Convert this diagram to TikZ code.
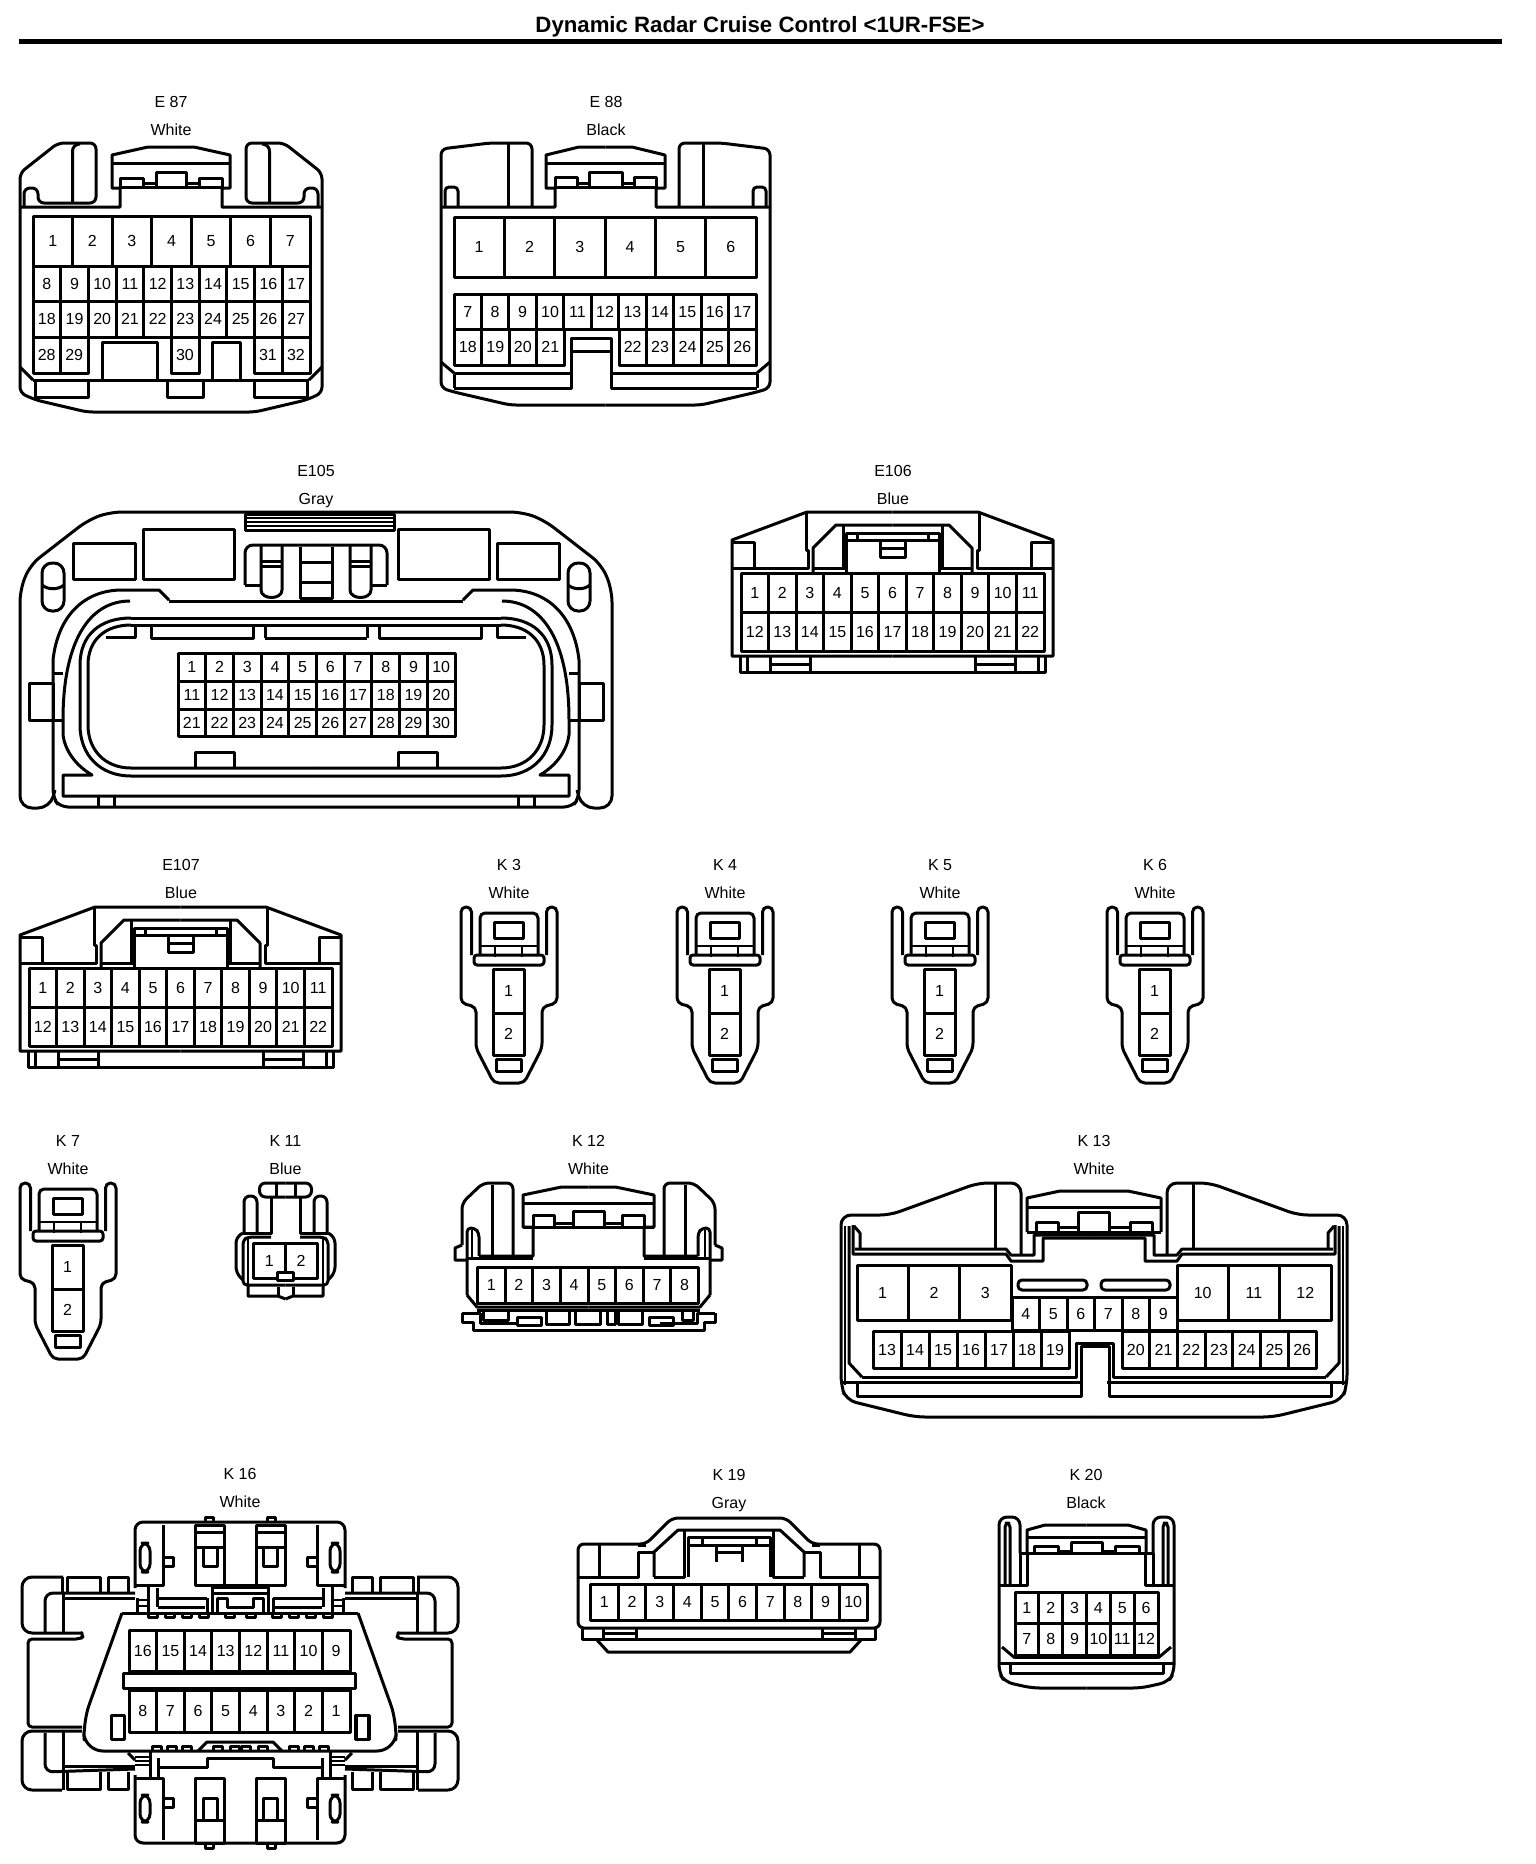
\documentclass[tikz,border=0pt]{standalone}
\usepackage{fontspec}
\setmainfont{Liberation Sans}
\newcommand{\bothsides}[2]{%
  \begin{scope}#2\end{scope}%
  \begin{scope}[shift={({2*#1},0)},xscale=-1]#2\end{scope}%
}
\newcommand{\pinrow}[7]{%
  \pgfmathsetmacro\pinw{(#3-#2)/#7}
  \foreach \n [count=\i from 0] in {#6} {
    \draw (#2+\i*\pinw,#4) rectangle (#2+\i*\pinw+\pinw,#5);
    \node[pinno] (#1p\n) at (#2+\i*\pinw+\pinw/2,{(#4+#5)/2}) {\n};
  }
}
\newcommand{\conname}[5]{%
  \node[context] (#1) at (#3,#4) {#2};
  \node[context] (#1c) at (#3,#4+28) {#5};
}
% the 22 pin housing, E106 and E107
\newcommand{\widecon}[3]{%
  \begin{scope}[shift={(#2,#3)}]
    \bothsides{892.5}{
      \draw (892.5,656)--(732,656)--(732,540)--(807,512)--(892.5,512);
      \draw (732,542)--(754,542)--(754,568);
      \draw (732,568)--(808,568)--(808,550)--(806,550)--(806,512);
      \draw (813,572)--(813,548)--(836,525)--(892.5,525);
      \draw (843,525)--(843,568);
      \draw (813,568)--(846,568);
      \draw (846,572)--(846,533)--(892.5,533);
      \draw (846,540)--(892.5,540);
      \draw (857,533)--(857,540);
      \draw (880,542)--(880,557)--(892.5,557);
      \draw (880,548)--(892.5,548);
      \draw (740,657)--(740,672)--(892.5,672);
      \draw (747,657)--(747,672);
      \draw (770,657)--(770,672);
      \draw (810,657)--(810,672);
      \draw (770,664)--(810,664);
    }
    \pinrow{#1}{741}{1044}{573}{612}{1,...,11}{11}
    \pinrow{#1}{741}{1044}{612}{651}{12,...,22}{11}
  \end{scope}
}
% the small 2 pin housing, K3 to K7
\newcommand{\twopin}[3]{%
  \begin{scope}[shift={(#2,#3)}]
    \draw[rounded corners=2.5pt] (471.5,955)--(471.5,907)--(461,907)--(461,1003)--(476,1007)--(476,1048)--(494,1083)--(524,1083)--(542,1048)--(542,1007)--(557,1003)--(557,907)--(546.5,907)--(546.5,955);
    \draw[rounded corners=1.5pt] (474,955)--(474,965)--(544,965)--(544,955)--cycle;
    \draw[rounded corners=2.5pt] (480,955)--(480,913)--(538,913)--(538,955);
    \draw (494,922) rectangle (523,938);
    \draw[thinline] (480,946)--(538,946);
    \draw[thinline] (495,947)--(495,957);
    \draw[thinline] (522,947)--(522,957);
    \draw (496,1059) rectangle (521,1071);
    \pinrow{#1}{493}{524}{969}{1013}{1}{1}
    \pinrow{#1}{493}{524}{1013}{1055}{2}{1}
  \end{scope}
}
\begin{document}
\begin{tikzpicture}[x=0.5pt,y=-0.5pt,line width=1.5pt,line join=round]
  \tikzstyle{pinno}=[inner sep=0pt,text height=5.8pt,text depth=0pt,font=\fontsize{8}{8}\selectfont]
  \tikzstyle{context}=[inner sep=0pt,text height=5.8pt,text depth=0pt,font=\fontsize{8}{8}\selectfont]
  \tikzstyle{thinline}=[line width=1pt]
  \useasboundingbox (0,0) rectangle (1536,1864);

  \node[inner sep=0pt,font=\bfseries\fontsize{11.1}{11}\selectfont] (title) at (760,27) {Dynamic Radar Cruise Control <1UR-FSE>};
  \coordinate (ruleL) at (19,41);
  \coordinate (ruleR) at (1502,41);
  \draw[line width=2.5pt] (ruleL) -- (ruleR);

  % E87
  \conname{e87}{E 87}{171}{102}{White}
  \bothsides{171}{
    \draw[rounded corners=3pt] (171,412)--(87,412)--(36,400)--(20,393)--(20,173)--(58,143)--(96,143)--(96,203)--(38,203)--(38,188)--(24,188)--(24,207);
    \draw (20,207)--(120,207)--(120,188)--(112,188)--(112,155)--(148,147)--(171,147);
    \draw[rounded corners=3pt] (72.5,203)--(72.5,145)--(80,144);
    \draw (112,163)--(171,163);
    \draw (120,187)--(120,178)--(143,178)--(143,187);
    \draw (120,187.5)--(171,187.5);
    \draw (143,183)--(156,183);
    \draw (156,187)--(156,172)--(171,172);
    \draw (20,367)--(33,380);
    \draw (35,382)--(35,397)--(88,397)--(88,382);
  }
  \draw (33,380)--(309,380);
  \draw (102,380)--(102,342)--(157,342)--(157,380);
  \draw (212,380)--(212,342)--(240,342)--(240,380);
  \draw (167,382)--(167,397)--(203,397)--(203,382);
  \draw (254,382)--(254,397);
  \pinrow{e87}{33}{310}{216}{266}{1,...,7}{7}
  \pinrow{e87}{33}{310}{266}{301}{8,...,17}{10}
  \pinrow{e87}{33}{310}{301}{337}{18,...,27}{10}
  \pinrow{e87}{33}{88}{337}{373}{28,29}{2}
  \pinrow{e87}{171}{199}{337}{373}{30}{1}
  \pinrow{e87}{254}{310}{337}{373}{31,32}{2}

  % E88
  \conname{e88}{E 88}{606}{102}{Black}
  \bothsides{605.5}{
    \draw[rounded corners=3pt] (605.5,405)--(510,405)--(454,392)--(441,388)--(441,149)--(490,143)--(532,143)--(532,207);
    \draw (508,143)--(508,207);
    \draw[rounded corners=2pt] (445,207)--(445,187)--(458,187)--(458,207);
    \draw (441,207)--(555,207)--(555,188)--(546,188)--(546,155)--(579,147)--(605.5,147);
    \draw (546,163)--(605.5,163);
    \draw (555,187)--(555,177)--(577,177)--(577,187);
    \draw (555,187.5)--(605.5,187.5);
    \draw (577,183)--(589,183);
    \draw (589,187)--(589,172)--(605.5,172);
    \draw (441,362)--(454,373);
    \draw (454,374)--(454,388);
  }
  \draw (454,373)--(571,373);
  \draw (611,373)--(757,373);
  \draw (454,388)--(571,388)--(571,338)--(611,338)--(611,388)--(757,388);
  \draw (571,351)--(611,351);
  \pinrow{e88}{454}{756}{217}{277}{1,...,6}{6}
  \pinrow{e88}{454}{756}{294}{329}{7,...,17}{11}
  \pinrow{e88}{454}{564}{329}{365}{18,...,21}{4}
  \pinrow{e88}{619}{756}{329}{365}{22,...,26}{5}

  % E105
  \conname{e105}{E105}{316}{471}{Gray}
  \bothsides{316}{
    \draw[rounded corners=6pt] (316,512)--(110,512)--(88,520)--(30,565)--(20,590)--(20,808)--(50,808)--(55,790);
    \draw[rounded corners=4pt] (316,807)--(60,807)--(53,798)--(53,660);
    \draw (53,660) .. controls (58,615) and (85,590) .. (122,590)--(159,590)--(169,600);
    \draw (169,601)--(316,601);
    \draw (130,601) .. controls (90,601) and (63,640) .. (63,720)--(63,735) .. controls (65,750) and (75,765) .. (92,775)--(63,775)--(63,796)--(316,796);
    \draw (131,618) .. controls (100,618) and (80,635) .. (80,665)--(80,725) .. controls (80,755) and (100,776) .. (131,776)--(316,776);
    \draw (131,625) .. controls (105,625) and (88,640) .. (88,665)--(88,725) .. controls (88,750) and (105,768) .. (131,768)--(316,768);
    \draw (131,618)--(316,618);
    \draw (131,625)--(316,625);
    \draw (106,637)--(135,637)--(135,625);
    \draw (151,625)--(151,638)--(253,638)--(253,625);
    \draw (265,638)--(316,638);
    \draw (265,625)--(265,638);
    \draw (29,683) rectangle (53,720);
    \draw (53,673)--(63,673);
    \draw (53,720)--(63,720);
    \draw (195,767)--(195,752)--(234,752)--(234,767);
    \draw (98,797)--(98,807);
    \draw (114,797)--(114,807);
    \draw (73,543) rectangle (135,579);
    \draw (143,529) rectangle (234,579);
    \draw[rounded corners=5pt] (42,563) rectangle (64,611);
    \draw (42,585) .. controls (48,590) and (58,590) .. (64,585);
    \draw[rounded corners=4pt] (316,545)--(245,545)--(245,585);
    \draw (245,585)--(261,585);
    \draw (282,546)--(282,590) .. controls (282,600) and (261,600) .. (261,590)--(261,546);
    \draw (261,561)--(282,561);
    \draw (261,566)--(282,566);
    \draw (300,547)--(300,598)--(316,598);
    \draw (300,562)--(316,562);
    \draw (300,582)--(316,582);
  }
  \draw (245,514) rectangle (394,530);
  \draw[thinline] (245,518)--(394,518);
  \draw[thinline] (245,522)--(394,522);
  \draw[thinline] (245,526)--(394,526);
  \pinrow{e105}{178}{455}{653}{681}{1,...,10}{10}
  \pinrow{e105}{178}{455}{681}{709}{11,...,20}{10}
  \pinrow{e105}{178}{455}{709}{736}{21,...,30}{10}

  % E106 and E107
  \conname{e106}{E106}{893}{471}{Blue}
  \widecon{e106}{0}{0}
  \conname{e107}{E107}{181}{865}{Blue}
  \widecon{e107}{-712}{395}

  % K3 to K7
  \conname{k3}{K 3}{509}{865}{White}
  \twopin{k3}{0}{0}
  \conname{k4}{K 4}{725}{865}{White}
  \twopin{k4}{216}{0}
  \conname{k5}{K 5}{940}{865}{White}
  \twopin{k5}{431}{0}
  \conname{k6}{K 6}{1155}{865}{White}
  \twopin{k6}{646}{0}
  \conname{k7}{K 7}{68}{1141}{White}
  \twopin{k7}{-441}{276}

  % K11
  \conname{k11}{K 11}{285.5}{1141}{Blue}
  \bothsides{285.5}{
    \draw[rounded corners=3pt] (285.5,1183)--(259.5,1183)--(259.5,1197)--(285.5,1197);
    \draw (276,1183)--(276,1197);
    \draw (271,1197)--(271,1233)--(243,1233);
    \draw[rounded corners=3pt] (257,1232)--(257,1196)--(244,1196)--(244,1232);
    \draw[rounded corners=3pt] (243,1233)--(236,1237)--(236,1273)--(243,1280);
    \draw[rounded corners=2pt] (285.5,1285)--(243,1285)--(243,1240)--(248,1237)--(271,1237);
    \draw[thinline] (248,1237)--(248,1285);
    \draw (248,1285)--(248,1296)--(278,1296)--(285.5,1299);
    \draw (278,1287)--(278,1296);
  }
  \pinrow{k11}{253.5}{317}{1243}{1278}{1,2}{2}
  \draw[fill=white] (277,1272) rectangle (293.5,1280);

  % K12
  \conname{k12}{K 12}{588.5}{1141}{White}
  \bothsides{588.5}{
    \draw[rounded corners=3pt] (513,1256)--(513,1183)--(483,1183)--(462,1203)--(462,1245);
    \draw (462,1245)--(455,1248)--(455,1260)--(467,1260);
    \draw (492,1185)--(492,1255);
    \draw[rounded corners=2pt] (467,1295)--(467,1228)--(475,1228)--(479,1233)--(479,1256);
    \draw[thinline] (472,1230)--(472,1258);
    \draw (479,1256)--(533,1256)--(533,1227)--(523,1227)--(523,1195)--(561.5,1187)--(588.5,1187);
    \draw (467,1258.5)--(533,1258.5);
    \draw (523,1203)--(588.5,1203);
    \draw (533,1227)--(533,1215)--(554.5,1215)--(554.5,1227);
    \draw (523,1227.5)--(588.5,1227.5);
    \draw (554.5,1223)--(573,1223);
    \draw (573,1227)--(573,1211)--(588.5,1211);
    \draw (467,1295)--(477,1307)--(588.5,1307);
    \draw (477,1310)--(588.5,1310);
    \draw (462,1313)--(480,1313)--(480,1323)--(517,1323);
    \draw (462,1313)--(462,1322)--(473,1322)--(473,1330)--(588.5,1330);
  }
  \draw (483,1311)--(483,1320)--(508,1320)--(508,1311);
  \draw (517,1317) rectangle (541,1325);
  \draw (546,1311)--(546,1324)--(569,1324)--(569,1311);
  \draw (575,1311)--(575,1324)--(600,1324)--(600,1311);
  \draw (607,1311)--(607,1324)--(615,1324)--(615,1311);
  \draw (618,1311)--(618,1324)--(642,1324)--(642,1311);
  \draw (649,1317) rectangle (673,1325);
  \draw (682,1311)--(682,1320)--(693,1320)--(693,1311);
  \pinrow{k12}{477.5}{698.5}{1267}{1303}{1,...,8}{8}

  % K13
  \conname{k13}{K 13}{1094}{1141}{White}
  \bothsides{1094}{
    \draw[rounded corners=5pt] (1094,1417)--(915,1417)--(846,1400)--(841,1385)--(841,1215)--(890,1215)--(978,1183)--(1021,1183)--(1021,1255);
    \draw (995,1184)--(995,1250);
    \draw (855,1249)--(1006,1249)--(1011,1255)--(1034,1255)--(1034,1235)--(1094,1235);
    \draw (853,1225)--(853,1254)--(1006,1254)--(1011,1261)--(1043,1261)--(1043,1238)--(1094,1238);
    \draw (860,1248)--(860,1233)--(854,1226);
    \draw (1027,1232)--(1027,1198)--(1060,1191)--(1094,1191);
    \draw (1027,1207)--(1094,1207);
    \draw (1027,1232)--(1094,1232);
    \draw (1036,1232)--(1036,1222)--(1058,1222)--(1058,1232);
    \draw (1058,1227)--(1078.5,1227);
    \draw (1078.5,1232)--(1078.5,1212)--(1094,1212);
    \draw[thinline] (845,1226)--(845,1385);
    \draw (849,1226)--(849,1363)--(862,1377);
    \draw (841,1382)--(1081,1382);
  }
  \draw (862,1377)--(1076,1377)--(1076,1343)--(1113,1343)--(1113,1377)--(1326,1377);
  \draw (857,1382)--(857,1396)--(1081,1396)--(1081,1346)--(1109,1346)--(1109,1396)--(1331,1396)--(1331,1382);
  \pinrow{k13}{857}{1011}{1265}{1320}{1,2,3}{3}
  \pinrow{k13}{1177}{1331}{1265}{1320}{10,11,12}{3}
  \pinrow{k13}{1012}{1177}{1297}{1330}{4,...,9}{6}
  \pinrow{k13}{873}{1069}{1331}{1368}{13,...,19}{7}
  \pinrow{k13}{1122}{1316}{1331}{1368}{20,...,26}{7}
  \draw[rounded corners=2pt] (1018,1280) rectangle (1087,1290);
  \draw[rounded corners=2pt] (1101,1280) rectangle (1170,1290);

  % K16
  \conname{k16}{K 16}{240}{1474}{White}
  \bothsides{240}{
    % upper latch
    \draw[rounded corners=4pt] (135,1588)--(135,1522)--(240,1522);
    \draw (163,1525)--(163,1585)--(135,1585);
    \draw[rounded corners=4pt] (140,1543) rectangle (150,1572);
    \draw (163,1557)--(173,1557)--(173,1566)--(163,1566);
    \draw (205,1521)--(205,1517)--(213,1517)--(213,1521);
    \draw (195,1525) rectangle (224,1585);
    \draw (195,1532)--(224,1532);
    \draw (195,1547)--(224,1547);
    \draw (203,1547) rectangle (217,1566);
    \draw (224,1585)--(240,1585);
    \draw (212,1587)--(240,1587);
    \draw (212,1593)--(240,1593);
    \draw (158,1598)--(207,1598);
    \draw (158,1607)--(205,1607);
    \draw (207,1598)--(207,1613);
    \draw (212,1587)--(212,1613);
    \draw (157,1588)--(157,1607);
    \draw (148,1587)--(148,1617);
    \draw[thinline] (137,1600)--(148,1600);
    \draw[thinline] (137,1606)--(148,1606);
    \draw (137,1598)--(137,1613);
    \draw (217,1613)--(217,1598)--(227,1598)--(227,1607)--(240,1607);
    % left wing
    \draw[rounded corners=5pt] (63,1577)--(22,1577)--(22,1633)--(82,1633);
    \draw[rounded corners=2pt] (82,1633)--(84,1636)--(80,1639)--(28,1639)--(28,1727)--(82,1727);
    \draw[rounded corners=4pt] (45,1632)--(45,1593)--(135,1593);
    \draw (63,1593)--(63,1632);
    \draw (63,1598)--(135,1598);
    \draw (62,1577)--(62,1592);
    \draw (67,1592)--(67,1577)--(100,1577)--(100,1592);
    \draw (108,1592)--(108,1577)--(128,1577)--(128,1592);
    \draw[rounded corners=5pt] (82,1731)--(22,1731)--(22,1790)--(62,1790);
    \draw[rounded corners=4pt] (45,1733)--(45,1772)--(135,1769);
    \draw (63,1731)--(63,1790);
    \draw (63,1766)--(135,1766);
    \draw (67,1772)--(67,1789)--(100,1789)--(100,1772);
    \draw (108,1772)--(108,1789)--(128,1789)--(128,1772);
    % main body
    \draw[rounded corners=9pt] (122,1613)--(83,1722)--(85,1751)--(240,1751);
    \draw (122,1613)--(240,1613);
    \foreach \tooth in {148,165,182,199,225} {
      \draw (\tooth,1613)--(\tooth,1617)--(\tooth+9,1617)--(\tooth+9,1613);
    }
    \foreach \tooth in {152,167,182,213,230} {
      \draw (\tooth,1751)--(\tooth,1746)--(\tooth+9,1746)--(\tooth+9,1751);
    }
    \draw (198,1751)--(207,1742)--(240,1742);
    \draw (111,1715) rectangle (124,1739);
    % lower latch
    \draw (158,1758)--(158,1767)--(207,1767)--(207,1758)--(240,1758);
    \draw (150,1752)--(150,1778);
    \draw[thinline] (135,1757)--(150,1757);
    \draw[thinline] (135,1761)--(150,1761);
    \draw[thinline] (135,1765)--(150,1765);
    \draw (128,1753)--(135,1760);
    \draw (158,1767)--(158,1778);
    \draw[rounded corners=4pt] (135,1775)--(135,1843)--(240,1843);
    \draw (135,1778)--(163,1778)--(163,1840);
    \draw[rounded corners=4pt] (140,1795) rectangle (150,1822);
    \draw (163,1798)--(173,1798)--(173,1807)--(163,1807);
    \draw (195,1778) rectangle (224,1843);
    \draw (203,1798) rectangle (217,1820);
    \draw (195,1820)--(224,1820);
    \draw (205,1843)--(205,1848)--(213,1848)--(213,1843);
  }
  \pinrow{k16}{129}{350}{1630}{1671}{16,15,...,9}{8}
  \pinrow{k16}{129}{350}{1690}{1732}{8,7,...,1}{8}
  \draw[fill=white] (123,1673) rectangle (355,1688);
  \draw (355,1715) rectangle (368,1739);

  % K19
  \conname{k19}{K 19}{729}{1475}{Gray}
  \bothsides{729}{
    \draw[rounded corners=3pt] (729,1628)--(578,1628)--(578,1544)--(646,1544)--(672,1518)--(729,1518);
    \draw (599,1544)--(599,1577);
    \draw (578,1577)--(638,1577)--(638,1552)--(654,1552);
    \draw (638,1545)--(646,1545);
    \draw (654,1577)--(654,1552)--(678,1530)--(729,1530);
    \draw (654,1577)--(684.5,1577)--(684.5,1530);
    \draw (688,1577)--(688,1537)--(729,1537);
    \draw (688,1545)--(729,1545);
    \draw (702,1537)--(702,1545);
    \draw (716,1547)--(716,1562);
    \draw (716,1552)--(729,1552);
    \draw (582.5,1628)--(582.5,1639)--(729,1639);
    \draw (603,1628)--(603,1639);
    \draw (636,1628)--(636,1639);
    \draw (603,1633)--(636,1633);
    \draw (597,1640)--(608,1652)--(729,1652);
  }
  \pinrow{k19}{590.6}{867}{1584}{1620}{1,...,10}{10}

  % K20
  \conname{k20}{K 20}{1086}{1475}{Black}
  \bothsides{1086.5}{
    \draw[rounded corners=4pt] (1086.5,1688)--(1032,1688)--(1005,1682)--(999,1673)--(999,1517)--(1020,1517)--(1020,1553);
    \draw[rounded corners=2pt] (1010,1584)--(1010,1523)--(1005,1523)--(1005,1584);
    \draw (1020,1553)--(1020,1584);
    \draw (1027,1553)--(1027,1530)--(1045,1525)--(1086.5,1525);
    \draw (1027,1537)--(1086.5,1537);
    \draw (1020,1553.5)--(1086.5,1553.5);
    \draw (1034,1553)--(1034,1546)--(1058,1546)--(1058,1553);
    \draw (1058,1551)--(1071,1551);
    \draw (1071,1553)--(1071,1542)--(1086.5,1542);
    \draw (999,1585)--(1027.5,1585)--(1027.5,1553);
    \draw (1002,1647)--(1015,1658);
    \draw[thinline] (1015,1658)--(1086.5,1658);
    \draw (999,1663)--(1086.5,1663);
    \draw (1010,1663)--(1010,1673)--(1086.5,1673);
  }
  \pinrow{k20}{1015}{1158}{1592}{1623}{1,...,6}{6}
  \pinrow{k20}{1015}{1158}{1623}{1655}{7,...,12}{6}
\end{tikzpicture}
\end{document}
